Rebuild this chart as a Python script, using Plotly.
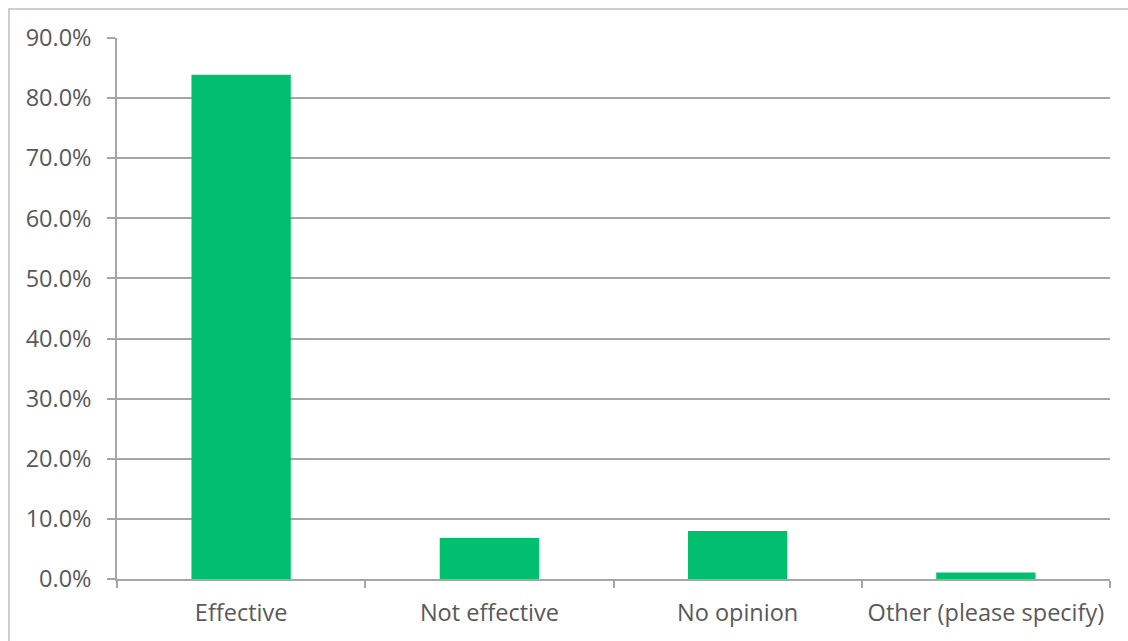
import plotly.graph_objects as go

categories = ["Effective", "Not effective", "No opinion", "Other (please specify)"]
shares = [0.839, 0.068, 0.080, 0.011]
y_ticks = [0.0, 0.1, 0.2, 0.3, 0.4, 0.5, 0.6, 0.7, 0.8, 0.9]

BAR = "#00BF6F"
GRID = "#A6A6A6"
TEXT = "#595959"
FONT = "Open Sans"
SIZE = 23.5

fig = go.Figure(
    go.Bar(
        x=categories,
        y=shares,
        marker=dict(color=BAR, line=dict(width=0)),
        hoverinfo="x+y",
    )
)

fig.update_layout(
    width=1128,
    height=641,
    margin=dict(l=117, r=18, t=38, b=62),
    paper_bgcolor="white",
    plot_bgcolor="white",
    bargap=0.6,
    showlegend=False,
    font=dict(family=FONT, size=SIZE, color=TEXT),
    shapes=[
        # outer chart frame
        dict(
            type="rect",
            xref="paper", yref="paper",
            x0=-0.1088, x1=1.2, y0=-0.3, y1=1.0536,
            line=dict(color="#BFBFBF", width=1.5),
            fillcolor="rgba(0,0,0,0)",
            layer="below",
        )
    ],
)

fig.update_xaxes(
    type="category",
    showline=True,
    linecolor=GRID,
    linewidth=1.5,
    ticks="outside",
    tickson="boundaries",
    ticklen=7,
    tickcolor=GRID,
    tickwidth=1.5,
    showgrid=False,
    tickfont=dict(family=FONT, size=SIZE, color=TEXT),
    ticklabelstandoff=12,
)

fig.update_yaxes(
    range=[0, 0.9],
    tickvals=y_ticks,
    tickformat=".1%",
    showline=True,
    linecolor=GRID,
    linewidth=1.5,
    ticks="outside",
    ticklen=8,
    tickcolor=GRID,
    tickwidth=1.5,
    showgrid=True,
    gridcolor=GRID,
    gridwidth=1.5,
    zeroline=False,
    tickfont=dict(family=FONT, size=SIZE, color=TEXT),
    ticklabelstandoff=11,
)

fig.write_html("out.html")
